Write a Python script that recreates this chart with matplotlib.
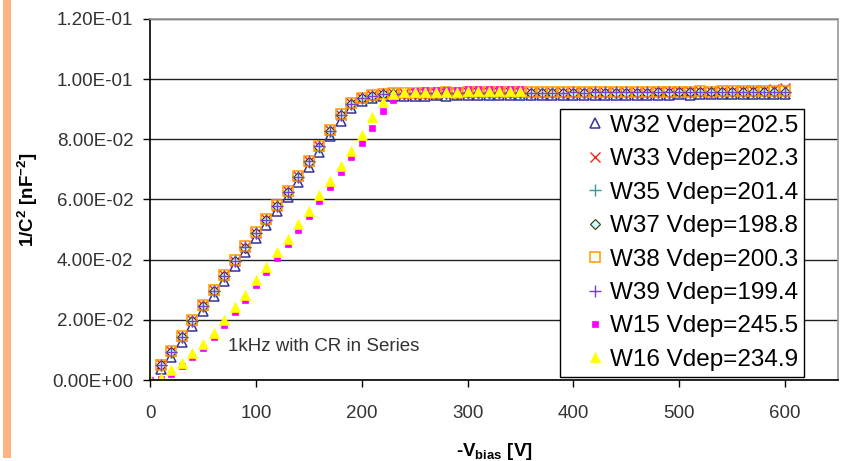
import matplotlib
matplotlib.use('Agg')
import matplotlib.pyplot as plt
from matplotlib.patches import Rectangle
from matplotlib.ticker import FuncFormatter, MultipleLocator

plt.rcParams['font.family'] = ['Liberation Sans', 'DejaVu Sans']
plt.rcParams['mathtext.fontset'] = 'custom'
plt.rcParams['mathtext.rm'] = 'Liberation Sans'
plt.rcParams['mathtext.bf'] = 'Liberation Sans:bold'
plt.rcParams['mathtext.default'] = 'bf'

# bias voltages [V]
v_w = list(range(10, 610, 10))      # W32..W39, 10..600 V
v_low = list(range(0, 360, 10))     # W15, W16, 0..350 V

# 1/C^2 [nF^-2]
w32 = [0.0035, 0.0078, 0.0127, 0.0180, 0.0230, 0.0280, 0.0330, 0.0378, 0.0424, 0.0471,
       0.0516, 0.0561, 0.0608, 0.0659, 0.0709, 0.0759, 0.0810, 0.0862, 0.0903, 0.0928,
       0.0938, 0.0943, 0.0944, 0.0945, 0.0945, 0.0945, 0.0946, 0.0945, 0.0946, 0.0946,
       0.0946, 0.0946, 0.0947, 0.0946, 0.0947, 0.0947, 0.0947, 0.0947, 0.0948, 0.0947,
       0.0948, 0.0948, 0.0948, 0.0948, 0.0949, 0.0948, 0.0949, 0.0949, 0.0949, 0.0950,
       0.0949, 0.0950, 0.0950, 0.0950, 0.0951, 0.0950, 0.0951, 0.0951, 0.0951, 0.0952]
w33 = [0.0052, 0.0096, 0.0146, 0.0199, 0.0249, 0.0299, 0.0349, 0.0397, 0.0443, 0.0490,
       0.0535, 0.0580, 0.0627, 0.0678, 0.0728, 0.0779, 0.0831, 0.0882, 0.0920, 0.0938,
       0.0946, 0.0952, 0.0953, 0.0954, 0.0954, 0.0955, 0.0955, 0.0955, 0.0956, 0.0956,
       0.0956, 0.0956, 0.0957, 0.0956, 0.0957, 0.0957, 0.0957, 0.0958, 0.0957, 0.0958,
       0.0958, 0.0958, 0.0959, 0.0958, 0.0959, 0.0959, 0.0959, 0.0960, 0.0960, 0.0960,
       0.0961, 0.0961, 0.0961, 0.0962, 0.0962, 0.0963, 0.0963, 0.0964, 0.0966, 0.0972]
w35 = [0.0050, 0.0094, 0.0144, 0.0197, 0.0247, 0.0297, 0.0347, 0.0395, 0.0441, 0.0488,
       0.0533, 0.0578, 0.0625, 0.0676, 0.0726, 0.0776, 0.0828, 0.0880, 0.0918, 0.0936,
       0.0944, 0.0950, 0.0951, 0.0952, 0.0952, 0.0953, 0.0953, 0.0952, 0.0953, 0.0953,
       0.0954, 0.0953, 0.0953, 0.0954, 0.0954, 0.0953, 0.0954, 0.0954, 0.0954, 0.0955,
       0.0954, 0.0954, 0.0955, 0.0955, 0.0954, 0.0955, 0.0955, 0.0955, 0.0956, 0.0955,
       0.0955, 0.0956, 0.0956, 0.0955, 0.0956, 0.0956, 0.0956, 0.0957, 0.0956, 0.0957]
w37 = [0.0049, 0.0093, 0.0143, 0.0196, 0.0246, 0.0296, 0.0346, 0.0394, 0.0440, 0.0487,
       0.0532, 0.0577, 0.0624, 0.0675, 0.0725, 0.0776, 0.0828, 0.0880, 0.0919, 0.0937,
       0.0945, 0.0950, 0.0951, 0.0951, 0.0952, 0.0952, 0.0952, 0.0953, 0.0952, 0.0953,
       0.0953, 0.0953, 0.0953, 0.0954, 0.0953, 0.0954, 0.0954, 0.0954, 0.0954, 0.0954,
       0.0955, 0.0954, 0.0955, 0.0955, 0.0955, 0.0955, 0.0955, 0.0956, 0.0955, 0.0956,
       0.0956, 0.0956, 0.0956, 0.0956, 0.0957, 0.0956, 0.0957, 0.0957, 0.0957, 0.0958]
w38 = [0.0051, 0.0096, 0.0146, 0.0199, 0.0250, 0.0300, 0.0350, 0.0398, 0.0444, 0.0491,
       0.0536, 0.0581, 0.0628, 0.0679, 0.0729, 0.0779, 0.0831, 0.0883, 0.0921, 0.0939,
       0.0947, 0.0952, 0.0954, 0.0954, 0.0955, 0.0955, 0.0955, 0.0956, 0.0955, 0.0956,
       0.0956, 0.0956, 0.0956, 0.0957, 0.0956, 0.0957, 0.0957, 0.0957, 0.0957, 0.0958,
       0.0957, 0.0958, 0.0958, 0.0958, 0.0958, 0.0959, 0.0958, 0.0959, 0.0959, 0.0959,
       0.0959, 0.0960, 0.0959, 0.0960, 0.0960, 0.0960, 0.0961, 0.0960, 0.0961, 0.0961]
w39 = [0.0050, 0.0094, 0.0144, 0.0197, 0.0247, 0.0297, 0.0346, 0.0395, 0.0441, 0.0488,
       0.0533, 0.0578, 0.0625, 0.0676, 0.0727, 0.0777, 0.0829, 0.0881, 0.0919, 0.0937,
       0.0945, 0.0950, 0.0952, 0.0952, 0.0953, 0.0953, 0.0953, 0.0953, 0.0954, 0.0954,
       0.0954, 0.0954, 0.0954, 0.0955, 0.0954, 0.0955, 0.0955, 0.0955, 0.0955, 0.0956,
       0.0955, 0.0956, 0.0956, 0.0956, 0.0956, 0.0956, 0.0957, 0.0957, 0.0957, 0.0957,
       0.0957, 0.0958, 0.0957, 0.0958, 0.0958, 0.0958, 0.0958, 0.0959, 0.0959, 0.0959]
w15 = [0.0000, 0.0002, 0.0020, 0.0045, 0.0075, 0.0106, 0.0142, 0.0183, 0.0225, 0.0266,
       0.0317, 0.0360, 0.0406, 0.0452, 0.0499, 0.0545, 0.0595, 0.0643, 0.0692, 0.0741,
       0.0789, 0.0839, 0.0893, 0.0931, 0.0952, 0.0960, 0.0963, 0.0964, 0.0965, 0.0965,
       0.0966, 0.0966, 0.0966, 0.0967, 0.0967, 0.0967]
w16 = [0.0000, 0.0008, 0.0032, 0.0058, 0.0090, 0.0121, 0.0157, 0.0200, 0.0241, 0.0283,
       0.0334, 0.0377, 0.0424, 0.0470, 0.0517, 0.0563, 0.0614, 0.0662, 0.0712, 0.0762,
       0.0815, 0.0873, 0.0925, 0.0950, 0.0957, 0.0958, 0.0958, 0.0959, 0.0959, 0.0959,
       0.0960, 0.0960, 0.0960, 0.0960, 0.0961, 0.0961]

labels = ['W32 Vdep=202.5', 'W33 Vdep=202.3', 'W35 Vdep=201.4', 'W37 Vdep=198.8',
          'W38 Vdep=200.3', 'W39 Vdep=199.4', 'W15 Vdep=245.5', 'W16 Vdep=234.9']

fig = plt.figure(figsize=(8.49, 4.61), dpi=100)
fig.patch.set_facecolor('white')
# orange stripe on the left edge
fig.patches.append(Rectangle((3/849, 3/461), 8/849, 1.0, transform=fig.transFigure,
                             facecolor='#FFB482', edgecolor='none', zorder=0))

ax = fig.add_axes([150/849, 1 - 380/461, 688/849, 361/461])

ax.plot(v_w, w32, ls='none', marker='^', ms=7.5, mfc='none', mec='#333399', mew=1.1, label=labels[0])
ax.plot(v_w, w33, ls='none', marker='x', ms=7, mec='#FF2020', mew=1.0, label=labels[1])
ax.plot(v_w, w35, ls='none', marker='+', ms=8, mec='#339999', mew=1.0, label=labels[2])
ax.plot(v_w, w37, ls='none', marker='D', ms=5.5, mfc='#CCFFFF', mec='#333300', mew=0.8, label=labels[3])
ax.plot(v_w, w38, ls='none', marker='s', ms=7, mfc='none', mec='#FF9900', mew=1.1, label=labels[4])
ax.plot(v_w, w39, ls='none', marker='+', ms=8, mec='#7B3FC8', mew=1.0, label=labels[5])
ax.plot(v_low, w15, ls='none', marker='s', ms=4.5, mfc='#FF00FF', mec='#FF00FF', mew=0.5, label=labels[6])
ax.plot(v_low, w16, ls='none', marker='^', ms=6.5, mfc='#FFFF00', mec='#FFFF00', mew=0.5, label=labels[7])

ax.set_xticks(range(0, 700, 100))
ax.set_xlim(0, 650)
ax.set_ylim(0, 0.12)
ax.yaxis.set_major_locator(MultipleLocator(0.02))
ax.yaxis.set_major_formatter(FuncFormatter(lambda v, p: '{:.2E}'.format(v)))

ax.grid(axis='y', color='#222222', lw=1.0)
ax.set_axisbelow(True)
for s in ['left', 'bottom']:
    ax.spines[s].set_color('black')
    ax.spines[s].set_linewidth(1.2)
for s in ['top', 'right']:
    ax.spines[s].set_color('#999999')
    ax.spines[s].set_linewidth(1.2)

ax.tick_params(axis='both', direction='out', length=5, width=1, color='black',
               labelsize=13.5, labelcolor='#333333')
ax.tick_params(axis='x', pad=13)
ax.tick_params(axis='y', pad=7)

ax.set_xlabel('-V$_{bias}$ [V]', fontsize=13.5, fontweight='bold')
ax.xaxis.set_label_coords(0.5, -0.197)
ax.xaxis.label.set_va('center')
ax.set_ylabel('1/C$^2$ [nF$^{-2}$]', fontsize=13.5, fontweight='bold')
ax.yaxis.set_label_coords(-0.177, 0.5)
ax.yaxis.label.set_va('center')

ax.text(74, 0.0113, '1kHz with CR in Series', fontsize=13.5, color='#333333',
        ha='left', va='center')

leg = ax.legend(loc='lower right', bbox_to_anchor=(804/849, 1 - 377/461),
                bbox_transform=fig.transFigure, borderaxespad=0, numpoints=1,
                fontsize=17.5, frameon=True, fancybox=False, framealpha=1,
                edgecolor='black', borderpad=0.25, handlelength=2.4,
                handletextpad=-0.6, labelspacing=0.47)
leg.get_frame().set_linewidth(1.0)

fig.savefig('out.png', dpi=100)
